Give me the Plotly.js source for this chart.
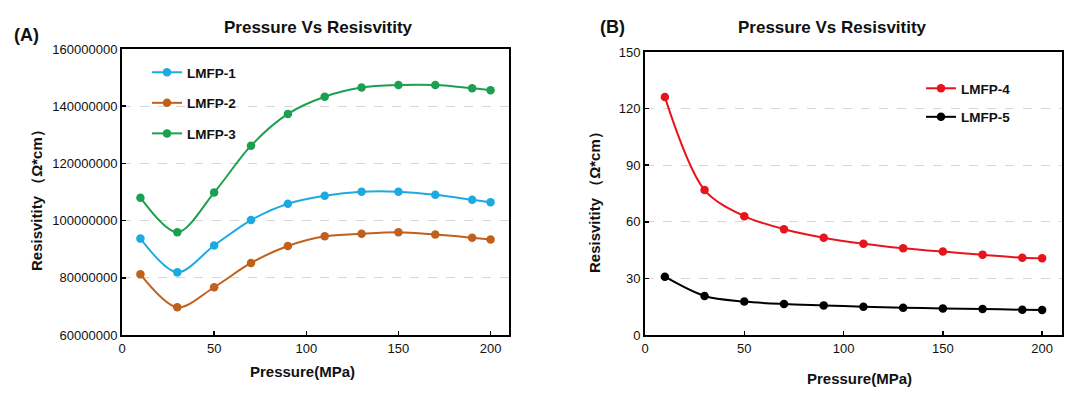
<!DOCTYPE html>
<html>
<head>
<meta charset="utf-8">
<script src="https://cdn.plot.ly/plotly-3.0.1.min.js"></script>
<style>html,body{margin:0;padding:0;background:#fff;}#chart{width:1080px;height:395px;}</style>
</head>
<body>
<div id="chart"></div>
<script>
// ---- data ----
const pressure = [10, 30, 50, 70, 90, 110, 130, 150, 170, 190, 200];
const lmfp1 = [93.7e6, 81.9e6, 91.3e6, 100.2e6, 105.9e6, 108.7e6, 110.1e6, 110.1e6, 109.0e6, 107.3e6, 106.4e6];
const lmfp2 = [81.2e6, 69.7e6, 76.7e6, 85.2e6, 91.1e6, 94.5e6, 95.4e6, 95.9e6, 95.1e6, 94.0e6, 93.4e6];
const lmfp3 = [108.0e6, 95.9e6, 109.8e6, 126.2e6, 137.3e6, 143.3e6, 146.5e6, 147.4e6, 147.4e6, 146.3e6, 145.6e6];
const lmfp4 = [126.1, 76.8, 63.0, 56.1, 51.6, 48.4, 46.0, 44.2, 42.6, 41.0, 40.7];
const lmfp5 = [30.9, 20.7, 17.7, 16.4, 15.7, 15.0, 14.5, 14.1, 13.8, 13.4, 13.3];
const seriesNamesA = ['LMFP-1', 'LMFP-2', 'LMFP-3'];
const seriesNamesB = ['LMFP-4', 'LMFP-5'];
const chartTitle = 'Pressure Vs Resisvitity';
const xTitle = 'Pressure(MPa)';
const yTitle = 'Resisvitity \uFF08\u03A9*cm\uFF09';
const yTicksA = [60000000, 80000000, 100000000, 120000000, 140000000, 160000000];
const yTicksB = [0, 30, 60, 90, 120, 150];
const xTicks = [0, 50, 100, 150, 200];

// ---- styling ----
const F = 'Liberation Sans, Arial, sans-serif';
const colorsA = ['#1EAAE0', '#C0601C', '#1BA050'];
const colorsB = ['#E8141C', '#000000'];

function tr(x, y, name, color, xa, ya, legend, group) {
  return {
    x: x, y: y, name: name, xaxis: xa, yaxis: ya, legend: legend, legendgroup: group,
    type: 'scatter', mode: 'lines+markers',
    line: {color: color, width: 2, shape: 'spline', smoothing: 0.9},
    marker: {color: color, size: 8.5}
  };
}

const data = [
  tr(pressure, lmfp1, seriesNamesA[0], colorsA[0], 'x', 'y', 'legend', 'a1'),
  tr(pressure, lmfp2, seriesNamesA[1], colorsA[1], 'x', 'y', 'legend', 'a2'),
  tr(pressure, lmfp3, seriesNamesA[2], colorsA[2], 'x', 'y', 'legend', 'a3'),
  tr(pressure, lmfp4, seriesNamesB[0], colorsB[0], 'x2', 'y2', 'legend2', 'b1'),
  tr(pressure, lmfp5, seriesNamesB[1], colorsB[1], 'x2', 'y2', 'legend2', 'b2')
];

const tickFont = {family: F, size: 13, color: '#111'};
const axX = {
  range: [0, 210], tickvals: xTicks, ticktext: xTicks.map(String),
  showgrid: false, zeroline: false, showline: true, linecolor: '#000', linewidth: 2, mirror: true,
  ticks: 'inside', ticklen: 4, tickwidth: 1.5, tickcolor: '#000',
  tickfont: tickFont, fixedrange: true
};
function axY(range, ticks, domain) {
  return {
    range: range, tickvals: ticks, ticktext: ticks.map(String), domain: domain,
    showgrid: true, gridcolor: '#d6d6d6', griddash: 'dash', gridwidth: 1,
    zeroline: false, showline: true, linecolor: '#000', linewidth: 2, mirror: true,
    ticks: 'inside', ticklen: 4, tickwidth: 1.5, tickcolor: '#000',
    tickfont: tickFont, fixedrange: true
  };
}

const titleFont = {family: F, size: 17, color: '#111', weight: 'bold'};
const labelFont = {family: F, size: 15, color: '#111', weight: 'bold'};

const layout = {
  width: 1080, height: 395,
  margin: {l: 0, r: 0, t: 0, b: 0},
  paper_bgcolor: '#fff', plot_bgcolor: '#fff',
  showlegend: true,
  xaxis: Object.assign({}, axX, {domain: [122/1080, 509/1080], anchor: 'y'}),
  yaxis: Object.assign(axY([60000000, 160000000], yTicksA, [1-335/395, 1-49/395]), {anchor: 'x'}),
  xaxis2: Object.assign({}, axX, {domain: [645/1080, 1062/1080], anchor: 'y2'}),
  yaxis2: Object.assign(axY([0, 150], yTicksB, [1-335/395, 1-52/395]), {anchor: 'x2'}),
  legend: {
    x: 147/1080, y: 1-57/395, xanchor: 'left', yanchor: 'top',
    bgcolor: 'rgba(0,0,0,0)', itemwidth: 30, traceorder: 'grouped', tracegroupgap: 10,
    font: {family: F, size: 13.5, color: '#111', weight: 'bold'}
  },
  legend2: {
    x: 921/1080, y: 1-73/395, xanchor: 'left', yanchor: 'top',
    bgcolor: 'rgba(0,0,0,0)', itemwidth: 30, traceorder: 'grouped', tracegroupgap: 8,
    font: {family: F, size: 13.5, color: '#111', weight: 'bold'}
  },
  annotations: [
    {text: chartTitle, x: 318/1080, y: 1-27/395, xref: 'paper', yref: 'paper', showarrow: false, xanchor: 'center', yanchor: 'middle', font: titleFont},
    {text: chartTitle, x: 832/1080, y: 1-27/395, xref: 'paper', yref: 'paper', showarrow: false, xanchor: 'center', yanchor: 'middle', font: titleFont},
    {text: '(A)', x: 26/1080, y: 1-35/395, xref: 'paper', yref: 'paper', showarrow: false, xanchor: 'center', yanchor: 'middle', font: {family: F, size: 18, color: '#111', weight: 'bold'}},
    {text: '(B)', x: 612/1080, y: 1-27/395, xref: 'paper', yref: 'paper', showarrow: false, xanchor: 'center', yanchor: 'middle', font: {family: F, size: 18, color: '#111', weight: 'bold'}},
    {text: xTitle, x: 302/1080, y: 1-371/395, xref: 'paper', yref: 'paper', showarrow: false, xanchor: 'center', yanchor: 'middle', font: labelFont},
    {text: xTitle, x: 859/1080, y: 1-378/395, xref: 'paper', yref: 'paper', showarrow: false, xanchor: 'center', yanchor: 'middle', font: labelFont},
    {text: yTitle, x: 36/1080, y: 1-197/395, xref: 'paper', yref: 'paper', showarrow: false, xanchor: 'center', yanchor: 'middle', textangle: -90, font: labelFont},
    {text: yTitle, x: 594/1080, y: 1-199/395, xref: 'paper', yref: 'paper', showarrow: false, xanchor: 'center', yanchor: 'middle', textangle: -90, font: labelFont}
  ]
};

Plotly.newPlot('chart', data, layout, {displayModeBar: false, staticPlot: true});
</script>
</body>
</html>
